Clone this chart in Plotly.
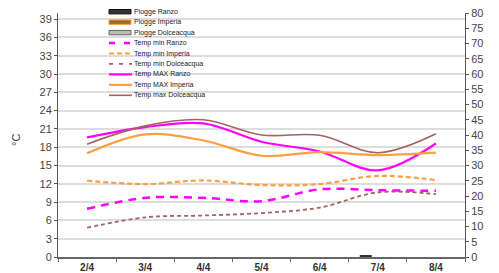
import plotly.graph_objects as go

days = ["2/4", "3/4", "4/4", "5/4", "6/4", "7/4", "8/4"]

rain_ranzo = [0, 0, 0, 0, 0, 0.5, 0]
rain_imperia = [0, 0, 0, 0, 0, 0, 0]
rain_dolceacqua = [0, 0, 0, 0, 0, 0, 0]

tmin_ranzo = [7.9, 9.7, 9.7, 9.15, 11.1, 10.95, 10.85]
tmin_imperia = [12.5, 11.95, 12.55, 11.8, 11.95, 13.3, 12.6]
tmin_dolceacqua = [4.8, 6.5, 6.8, 7.2, 8.1, 10.6, 10.3]
tmax_ranzo = [19.6, 21.3, 21.9, 18.9, 17.3, 14.2, 18.6]
tmax_imperia = [17.0, 20.1, 19.1, 16.6, 17.2, 16.7, 17.1]
tmax_dolceacqua = [18.5, 21.5, 22.5, 20.0, 19.95, 17.1, 20.2]

left_ticks = list(range(0, 40, 3))
right_ticks = list(range(0, 81, 5))

MAG = "#FF00FF"
ORA = "#F9A03F"
BRN = "#A4635E"
FONT = "Liberation Sans, Arial, sans-serif"

fig = go.Figure()

fig.add_trace(go.Bar(x=days, y=rain_ranzo, name="Piogge Ranzo", yaxis="y2",
                     marker=dict(color="#333333", line=dict(width=0))))
fig.add_trace(go.Bar(x=days, y=rain_imperia, name="Piogge Imperia", yaxis="y2",
                     marker=dict(color="#9C6A2E", line=dict(width=0))))
fig.add_trace(go.Bar(x=days, y=rain_dolceacqua, name="Piogge Dolceacqua", yaxis="y2",
                     marker=dict(color="#BBBBBB", line=dict(width=0))))

line_specs = [
    ("Temp min Ranzo", tmin_ranzo, MAG, 2.5, "8px,6px"),
    ("Temp min Imperia", tmin_imperia, ORA, 2.2, "5px,3px"),
    ("Temp min Dolceacqua", tmin_dolceacqua, BRN, 1.8, "4px,3px"),
    ("Temp MAX Ranzo", tmax_ranzo, MAG, 2.2, "solid"),
    ("Temp MAX Imperia", tmax_imperia, ORA, 2.2, "solid"),
    ("Temp max Dolceacqua", tmax_dolceacqua, BRN, 1.6, "solid"),
]
for name, vals, col, w, dash in line_specs:
    fig.add_trace(go.Scatter(x=days, y=vals, name=name, mode="lines",
                             line=dict(color=col, width=w, dash=dash, shape="spline", smoothing=1)))

for tr in fig.data:
    tr.showlegend = False

# custom compact legend (paper coordinates)
L, R, T, B = 58, 465, 13, 257
def px2x(p):
    return (p - L) / (R - L)
def py2y(p):
    return (B - p) / (B - T)

shapes = []
annotations = []
legend_items = [
    ("Piogge Ranzo", "bar", "#333333", "#111111", None),
    ("Piogge Imperia", "bar", "#9C6A2E", ORA, None),
    ("Piogge Dolceacqua", "bar", "#BBBBBB", "#666666", None),
] + [(n, "line", c, w, d) for n, _, c, w, d in line_specs]

y0 = 11.7
step = 10.45
for i, (name, kind, c1, c2, d) in enumerate(legend_items):
    yc = y0 + i * step
    if kind == "bar":
        shapes.append(dict(type="rect", xref="paper", yref="paper",
                           x0=px2x(109), x1=px2x(131), y0=py2y(yc + 2.2), y1=py2y(yc - 2.2),
                           fillcolor=c1, line=dict(color=c2, width=1)))
    else:
        dash = "solid" if d == "solid" else {"8px,6px": "6px,9px", "5px,3px": "5px,3px", "4px,3px": "4px,6px"}[d]
        shapes.append(dict(type="line", xref="paper", yref="paper",
                           x0=px2x(109), x1=px2x(132), y0=py2y(yc), y1=py2y(yc),
                           line=dict(color=c1, width=c2, dash=dash)))
    annotations.append(dict(text=name, xref="paper", yref="paper", x=px2x(132), y=py2y(yc),
                            xanchor="left", yanchor="middle", showarrow=False,
                            font=dict(size=7, color="#222222", family=FONT)))

annotations.append(dict(text="°C", xref="paper", yref="paper", x=px2x(16), y=py2y(140),
                        xanchor="center", yanchor="middle", showarrow=False, textangle=-90,
                        font=dict(size=11, color="#333333", family=FONT)))

fig.update_layout(
    width=499, height=273,
    margin=dict(l=L, r=499 - R, t=T, b=273 - B),
    paper_bgcolor="white", plot_bgcolor="white",
    barmode="group", bargap=0.38, bargroupgap=0,
    showlegend=False,
    shapes=shapes, annotations=annotations,
    font=dict(family=FONT, color="#333333"),
    xaxis=dict(type="category", range=[-0.5, 6.5], showgrid=False,
               showline=True, linecolor="#666666", linewidth=1.5,
               ticks="outside", ticklen=3, tickcolor="#666666", tickson="boundaries",
               tickfont=dict(size=10, color="#333333", family=FONT, weight="bold"),
               automargin=False),
    yaxis=dict(range=[0, 40], tickvals=left_ticks, showgrid=True, gridcolor="#dddddd", gridwidth=1.6,
               zeroline=False, showline=True, linecolor="#555555", linewidth=1,
               ticks="outside", ticklen=3, tickcolor="#555555",
               tickfont=dict(size=11, color="#444444", family=FONT), automargin=False),
    yaxis2=dict(range=[0, 80], tickvals=right_ticks, overlaying="y", side="right", showgrid=False,
                zeroline=False, showline=True, linecolor="#555555", linewidth=1,
                ticks="outside", ticklen=3, tickcolor="#555555",
                tickfont=dict(size=11, color="#444444", family=FONT), automargin=False),
)

fig.write_html("out.html", config={"displayModeBar": False},
               post_script="document.body.style.margin='0';")
